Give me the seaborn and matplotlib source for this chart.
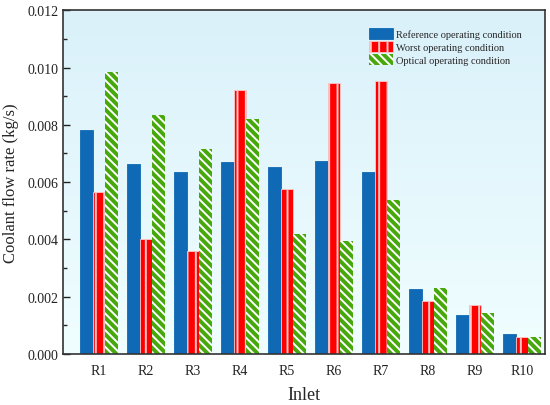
import numpy as np
import pandas as pd
import seaborn as sns
import matplotlib
matplotlib.use("Agg")
from matplotlib import pyplot as plt
from matplotlib.ticker import MultipleLocator, FormatStrFormatter

# values
inlets = ['R1', 'R2', 'R3', 'R4', 'R5', 'R6', 'R7', 'R8', 'R9', 'R10']
reference = [0.00781, 0.00662, 0.00636, 0.00669, 0.00654, 0.00674, 0.00635, 0.00227, 0.00137, 0.00069]
worst = [0.00567, 0.00400, 0.00361, 0.00923, 0.00576, 0.00947, 0.00953, 0.00186, 0.00172, 0.00058]
optical = [0.00983, 0.00836, 0.00714, 0.00822, 0.00420, 0.00394, 0.00537, 0.00229, 0.00143, 0.00058]
conditions = ['Reference operating condition', 'Worst operating condition', 'Optical operating condition']

df = pd.DataFrame({
    'Inlet': inlets * 3,
    'Condition': [conditions[0]] * 10 + [conditions[1]] * 10 + [conditions[2]] * 10,
    'Flow': reference + worst + optical,
})

sns.set_style('ticks')
plt.rcParams['font.family'] = ['Liberation Serif', 'DejaVu Serif']
plt.rcParams['hatch.linewidth'] = 1.4

fig = plt.figure(figsize=(5.5, 4.06), dpi=100)
ax = fig.add_axes([0.115, 0.126, 0.876, 0.846])

# light blue gradient background
grad = np.linspace(0, 1, 256).reshape(-1, 1)
bg = np.zeros((256, 1, 3))
top_c = np.array([0xda, 0xf1, 0xfa]) / 255
bot_c = np.array([0xf0, 0xfe, 0xff]) / 255
bg[:] = top_c * (1 - grad[:, :, None]) + bot_c * grad[:, :, None]
ax.imshow(bg, extent=[0, 1, 0, 1], transform=ax.transAxes, aspect='auto', zorder=0)

palette = ['#0f69b4', '#ff0000', '#47a80c']
sns.barplot(data=df, x='Inlet', y='Flow', hue='Condition', hue_order=conditions,
            palette=palette, width=0.81, saturation=1, legend=False, ax=ax, zorder=2)

hatches = [None, '||', '\\' * 4]
edges = ['#0f69b4', '#ffc8c8', 'white']
for cont, h, ec in zip(ax.containers, hatches, edges):
    for bar in cont:
        bar.set_edgecolor(ec)
        if h:
            bar.set_hatch(h)
        bar.set_linewidth(0.6 if ec != 'white' else 0)

ax.set_xlim(-0.76, 9.49)
ax.set_ylim(0, 0.012)
ax.yaxis.set_major_locator(MultipleLocator(0.002))
ax.yaxis.set_minor_locator(MultipleLocator(0.001))
ax.yaxis.set_major_formatter(FormatStrFormatter('%.3f'))
ax.tick_params(axis='y', which='major', direction='in', length=5, width=1, labelsize=10, colors='#222222')
ax.tick_params(axis='y', which='minor', direction='in', length=3, width=1)
ax.tick_params(axis='x', length=0, labelsize=10, pad=7, colors='#222222')

for s in ax.spines.values():
    s.set_linewidth(1.2)
    s.set_color('#333333')

ax.set_xlabel('Inlet', fontsize=13, labelpad=7)
ax.set_ylabel('Coolant flow rate (kg/s)', fontsize=12, labelpad=6)

ax.legend(ax.containers, conditions, loc='upper right', bbox_to_anchor=(0.966, 0.97),
          frameon=False, fontsize=7.5, handlelength=2.3, handleheight=1.2,
          labelspacing=0.22, handletextpad=0.3, borderaxespad=0.3)

fig.savefig('out.png', dpi=100)
